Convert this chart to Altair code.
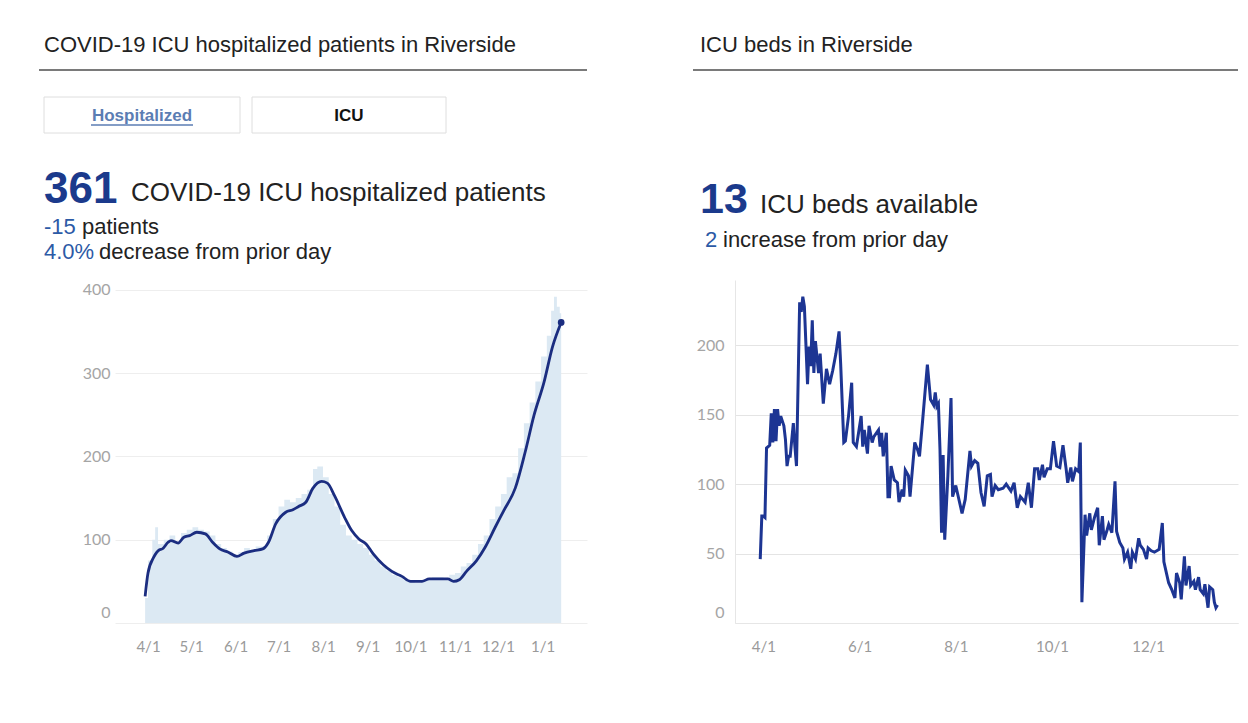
import altair as alt
import pandas as pd

# ---------------- header numbers ----------------
hosp_total = 361
hosp_change = -15
hosp_pct = 4.0
icu_total = 13
icu_change = 2

# ---------------- left chart: hospitalized patients ----------------
hosp_daily_dates = [
    "2020-03-30", "2020-04-01", "2020-04-04", "2020-04-06", "2020-04-08", "2020-04-12", "2020-04-16",
    "2020-04-20", "2020-04-24", "2020-04-28", "2020-05-02", "2020-05-06", "2020-05-10", "2020-05-14",
    "2020-05-18", "2020-05-22", "2020-05-26", "2020-05-30", "2020-06-03", "2020-06-07", "2020-06-11",
    "2020-06-15", "2020-06-19", "2020-06-23", "2020-06-27", "2020-07-01", "2020-07-05", "2020-07-09",
    "2020-07-13", "2020-07-17", "2020-07-21", "2020-07-25", "2020-07-28", "2020-08-01", "2020-08-05",
    "2020-08-09", "2020-08-13", "2020-08-17", "2020-08-21", "2020-08-25", "2020-08-29", "2020-09-02",
    "2020-09-06", "2020-09-10", "2020-09-14", "2020-09-18", "2020-09-22", "2020-09-26", "2020-09-30",
    "2020-10-04", "2020-10-08", "2020-10-12", "2020-10-16", "2020-10-20", "2020-10-24", "2020-10-28",
    "2020-11-01", "2020-11-05", "2020-11-09", "2020-11-13", "2020-11-17", "2020-11-21", "2020-11-25",
    "2020-11-29", "2020-12-03", "2020-12-07", "2020-12-11", "2020-12-15", "2020-12-19", "2020-12-23",
    "2020-12-27", "2020-12-31", "2021-01-04", "2021-01-07", "2021-01-09", "2021-01-11", "2021-01-13",
    "2021-01-14",
]
hosp_daily_values = [
    30, 75, 100, 115, 95, 100, 105,
    98, 108, 112, 115, 112, 110, 105,
    95, 90, 86, 82, 85, 90, 88,
    92, 92, 105, 125, 140, 148, 145,
    150, 155, 160, 185, 188, 175, 155,
    140, 118, 105, 100, 95, 90, 82,
    75, 68, 63, 58, 55, 52, 50,
    48, 50, 52, 55, 55, 54, 58,
    60, 68, 72, 82, 95, 105, 125,
    140, 155, 175, 180, 210, 240, 265,
    290, 320, 345, 375, 392, 380, 372,
    361,
]

hosp_avg_dates = [
    "2020-03-30", "2020-04-01", "2020-04-05", "2020-04-09", "2020-04-11", "2020-04-15", "2020-04-17",
    "2020-04-22", "2020-04-26", "2020-04-30", "2020-05-05", "2020-05-11", "2020-05-16", "2020-05-21",
    "2020-05-27", "2020-06-02", "2020-06-07", "2020-06-14", "2020-06-20", "2020-06-24", "2020-06-29",
    "2020-07-06", "2020-07-11", "2020-07-15", "2020-07-20", "2020-07-25", "2020-07-31", "2020-08-04",
    "2020-08-09", "2020-08-16", "2020-08-21", "2020-08-26", "2020-08-31", "2020-09-05", "2020-09-12",
    "2020-09-18", "2020-09-25", "2020-10-01", "2020-10-09", "2020-10-14", "2020-10-22", "2020-10-27",
    "2020-10-31", "2020-11-04", "2020-11-09", "2020-11-16", "2020-11-22", "2020-11-29", "2020-12-05",
    "2020-12-13", "2020-12-20", "2020-12-26", "2021-01-02", "2021-01-08", "2021-01-14",
]
hosp_avg_values = [
    32, 60, 79, 88, 89, 97, 99,
    96, 103, 105, 109, 107, 97, 89,
    85, 80, 84, 87, 89, 97, 119,
    133, 136, 140, 145, 162, 170, 168,
    153, 127, 111, 101, 95, 83, 70,
    62, 56, 50, 50, 53, 53, 53,
    50, 52, 62, 75, 91, 115, 135,
    162, 206, 249, 289, 332, 361,
]

# ---------------- right chart: ICU beds available ----------------
icu_dates = [
    "2020-03-30", "2020-03-31", "2020-04-01", "2020-04-02", "2020-04-03", "2020-04-05", "2020-04-06",
    "2020-04-07", "2020-04-08", "2020-04-09", "2020-04-10", "2020-04-11", "2020-04-12", "2020-04-14",
    "2020-04-15", "2020-04-16", "2020-04-17", "2020-04-18", "2020-04-20", "2020-04-21", "2020-04-22",
    "2020-04-24", "2020-04-25", "2020-04-26", "2020-04-27", "2020-04-29", "2020-04-30", "2020-05-01",
    "2020-05-02", "2020-05-03", "2020-05-04", "2020-05-06", "2020-05-07", "2020-05-09", "2020-05-11",
    "2020-05-13", "2020-05-15", "2020-05-17", "2020-05-19", "2020-05-20", "2020-05-22", "2020-05-23",
    "2020-05-25", "2020-05-27", "2020-05-28", "2020-05-30", "2020-06-02", "2020-06-03", "2020-06-04",
    "2020-06-06", "2020-06-07", "2020-06-09", "2020-06-10", "2020-06-13", "2020-06-14", "2020-06-15",
    "2020-06-16", "2020-06-18", "2020-06-19", "2020-06-20", "2020-06-21", "2020-06-23", "2020-06-25",
    "2020-06-26", "2020-06-28", "2020-06-29", "2020-06-30", "2020-07-02", "2020-07-03", "2020-07-06",
    "2020-07-08", "2020-07-09", "2020-07-11", "2020-07-14", "2020-07-16", "2020-07-18", "2020-07-19",
    "2020-07-20", "2020-07-21", "2020-07-22", "2020-07-23", "2020-07-24", "2020-07-25", "2020-07-27",
    "2020-07-29", "2020-07-30", "2020-08-01", "2020-08-02", "2020-08-05", "2020-08-07", "2020-08-10",
    "2020-08-11", "2020-08-13", "2020-08-15", "2020-08-17", "2020-08-19", "2020-08-21", "2020-08-23",
    "2020-08-24", "2020-08-26", "2020-08-28", "2020-08-31", "2020-09-02", "2020-09-05", "2020-09-07",
    "2020-09-09", "2020-09-11", "2020-09-14", "2020-09-16", "2020-09-18", "2020-09-20", "2020-09-22",
    "2020-09-23", "2020-09-25", "2020-09-26", "2020-09-28", "2020-09-30", "2020-10-02", "2020-10-04",
    "2020-10-06", "2020-10-08", "2020-10-10", "2020-10-11", "2020-10-13", "2020-10-14", "2020-10-16",
    "2020-10-18", "2020-10-19", "2020-10-20", "2020-10-22", "2020-10-23", "2020-10-25", "2020-10-26",
    "2020-10-28", "2020-10-30", "2020-10-31", "2020-11-02", "2020-11-03", "2020-11-05", "2020-11-06",
    "2020-11-08", "2020-11-10", "2020-11-11", "2020-11-13", "2020-11-15", "2020-11-16", "2020-11-18",
    "2020-11-20", "2020-11-21", "2020-11-23", "2020-11-25", "2020-11-26", "2020-11-28", "2020-11-30",
    "2020-12-01", "2020-12-03", "2020-12-05", "2020-12-08", "2020-12-10", "2020-12-11", "2020-12-14",
    "2020-12-16", "2020-12-18", "2020-12-19", "2020-12-21", "2020-12-22", "2020-12-24", "2020-12-25",
    "2020-12-27", "2020-12-28", "2020-12-30", "2020-12-31", "2021-01-02", "2021-01-03", "2021-01-05",
    "2021-01-06", "2021-01-08", "2021-01-09", "2021-01-11", "2021-01-12", "2021-01-13", "2021-01-14",
]
icu_values = [
    46, 77, 77, 76, 126, 128, 151,
    130, 154, 131, 154, 142, 149, 142,
    132, 113, 120, 120, 144, 127, 113,
    231, 224, 235, 228, 172, 199, 185,
    218, 180, 203, 180, 194, 158, 183,
    172, 182, 194, 210, 187, 130, 131,
    149, 173, 130, 127, 149, 127, 139,
    122, 142, 130, 134, 139, 127, 137,
    120, 137, 91, 91, 113, 103, 101,
    87, 96, 91, 110, 106, 91, 130,
    124, 120, 146, 186, 161, 157, 166,
    156, 158, 125, 65, 121, 60, 106,
    162, 91, 99, 94, 79, 89, 124,
    113, 117, 115, 94, 84, 106, 107,
    91, 99, 96, 97, 100, 95, 101,
    83, 91, 87, 101, 83, 111, 111,
    103, 114, 105, 111, 111, 131, 113,
    112, 128, 111, 101, 112, 102, 111,
    109, 130, 15, 78, 63, 79, 67,
    76, 83, 56, 77, 60, 67, 71,
    65, 102, 66, 58, 54, 46, 51,
    39, 51, 46, 61, 56, 53, 46,
    54, 52, 51, 53, 72, 44, 29,
    24, 18, 36, 29, 17, 48, 27,
    41, 27, 30, 24, 33, 24, 21,
    28, 11, 26, 24, 15, 11, 13,
]

left_ticks = [(2020, 4), (2020, 5), (2020, 6), (2020, 7), (2020, 8), (2020, 9),
              (2020, 10), (2020, 11), (2020, 12), (2021, 1)]
right_ticks = [(2020, 4), (2020, 6), (2020, 8), (2020, 10), (2020, 12)]
left_y_ticks = [0, 100, 200, 300, 400]
right_y_ticks = [0, 50, 100, 150, 200]

# ---------------- styling ----------------
FONT = "Liberation Sans"
AXFONT = "Lato"
DARK_BLUE = "#1b3a8c"
MID_BLUE = "#2c5aa6"
TEXT = "#222222"
NAVY = "#1b2d80"
LINE_BLUE = "#1d3593"
AREA = "#dce9f3"

hosp_daily = pd.DataFrame({"date": hosp_daily_dates, "value": hosp_daily_values})
hosp_avg = pd.DataFrame({"date": hosp_avg_dates, "value": hosp_avg_values})
hosp_last = hosp_avg.tail(1)
icu = pd.DataFrame({"date": icu_dates, "value": icu_values})

one = pd.DataFrame({"k": [0]})


def dt(y, m, d=1):
    return alt.DateTime(year=y, month=m, date=d, utc=True)


def txt(s, x, y, size=22, color=TEXT, weight="normal", align="left", baseline="alphabetic"):
    return alt.Chart(one).mark_text(
        text=s, align=align, baseline=baseline, fontSize=size, font=FONT,
        color=color, fontWeight=weight
    ).encode(x=alt.value(x), y=alt.value(y))


def hrule(x1, x2, y, color="#7a7a7a", width=2):
    return alt.Chart(one).mark_rule(color=color, strokeWidth=width).encode(
        x=alt.value(x1), x2=alt.value(x2), y=alt.value(y))


def box(x1, x2, y1, y2):
    return alt.Chart(one).mark_rect(fill="white", stroke="#dedede", strokeWidth=1).encode(
        x=alt.value(x1), x2=alt.value(x2), y=alt.value(y1), y2=alt.value(y2))


anchor = alt.Chart(one).mark_rect(opacity=0).encode(
    x=alt.value(-107), x2=alt.value(-106), y=alt.value(-272), y2=alt.value(-271))

zero_up = {"condition": {"test": "datum.value === 0", "value": -11}, "value": 0}
label_expr = "(utcmonth(datum.value) + 1) + '/' + utcdate(datum.value)"

# ---------- left panel ----------
lx = alt.X("date:T", scale=alt.Scale(type="utc", domain=[dt(2020, 3, 9), dt(2021, 2, 1)]),
           axis=alt.Axis(title=None, values=[dt(y, m) for y, m in left_ticks], labelExpr=label_expr,
                         grid=False, ticks=False, domain=False, labelFont=AXFONT, labelFontSize=15,
                         labelColor="#9a9a9a", labelPadding=16))
ly = alt.Y("value:Q", scale=alt.Scale(domain=[0, 412], nice=False),
           axis=alt.Axis(title=None, values=left_y_ticks, grid=True, gridColor="#eeeeee", ticks=False,
                         domain=False, labelFont=AXFONT, labelFontSize=16, labelColor="#a5a5a5",
                         labelPadding=5, labelOffset=zero_up))

area = alt.Chart(hosp_daily).mark_area(color=AREA, interpolate="step-after").encode(x=lx, y=ly)
line = alt.Chart(hosp_avg).mark_line(color=NAVY, strokeWidth=2.8, interpolate="monotone").encode(
    x="date:T", y="value:Q")
dot = alt.Chart(hosp_last).mark_point(color=NAVY, filled=True, size=45, opacity=1).encode(
    x="date:T", y="value:Q")

left = alt.layer(
    anchor,
    area, line, dot,
    txt("COVID-19 ICU hospitalized patients in Riverside", -71, -228, size=22),
    hrule(-76, 472, -210),
    box(-71, 125, -183, -147),
    box(137, 331, -183, -147),
    txt("Hospitalized", 27, -159, size=17, color="#5b7db3", weight="bold", align="center"),
    hrule(-24, 78, -155, color="#5b7db3", width=1.5),
    txt("ICU", 234, -159, size=17, color="#111111", weight="bold", align="center"),
    txt(f"{hosp_total}", -71, -77, size=44, color=DARK_BLUE, weight="bold"),
    txt("COVID-19 ICU hospitalized patients", 16, -79, size=26),
    txt(f"{hosp_change}", -71, -46, size=22, color=MID_BLUE),
    txt("patients", -33, -46, size=22),
    txt(f"{hosp_pct:.1f}%", -71, -21, size=22, color=MID_BLUE),
    txt("decrease from prior day", -16, -21, size=22),
).properties(width=472, height=343)

# ---------- right panel ----------
rx = alt.X("date:T", scale=alt.Scale(type="utc", domain=[dt(2020, 3, 14), dt(2021, 1, 27)]),
           axis=alt.Axis(title=None, values=[dt(y, m) for y, m in right_ticks], labelExpr=label_expr,
                         grid=False, ticks=False, domain=True, domainColor="#e6e6e6",
                         labelFont=AXFONT, labelFontSize=15, labelColor="#9a9a9a", labelPadding=16))
ry = alt.Y("value:Q", scale=alt.Scale(domain=[0, 247], nice=False),
           axis=alt.Axis(title=None, values=right_y_ticks, grid=True, gridColor="#e4e4e4", ticks=False,
                         domain=True, domainColor="#e6e6e6", labelFont=AXFONT, labelFontSize=16,
                         labelColor="#a5a5a5", labelPadding=11, labelOffset=zero_up))

icu_line = alt.Chart(icu).mark_line(color=LINE_BLUE, strokeWidth=3).encode(x=rx, y=ry)

right = alt.layer(
    icu_line,
    txt("ICU beds in Riverside", -35, -228, size=22),
    hrule(-42, 503, -210),
    txt(f"{icu_total}", -35, -67, size=43, color=DARK_BLUE, weight="bold"),
    txt("ICU beds available", 25, -67, size=26),
    txt(f"{icu_change}", -30, -33, size=22, color=MID_BLUE),
    txt("increase from prior day", -12, -33, size=22),
).properties(width=503, height=343)

chart = alt.hconcat(left, right, spacing=148, bounds="flush").properties(
    padding=0, background="white"
).configure_view(stroke=None)

chart.save("out.html", embed_options={"renderer": "svg", "actions": False})
